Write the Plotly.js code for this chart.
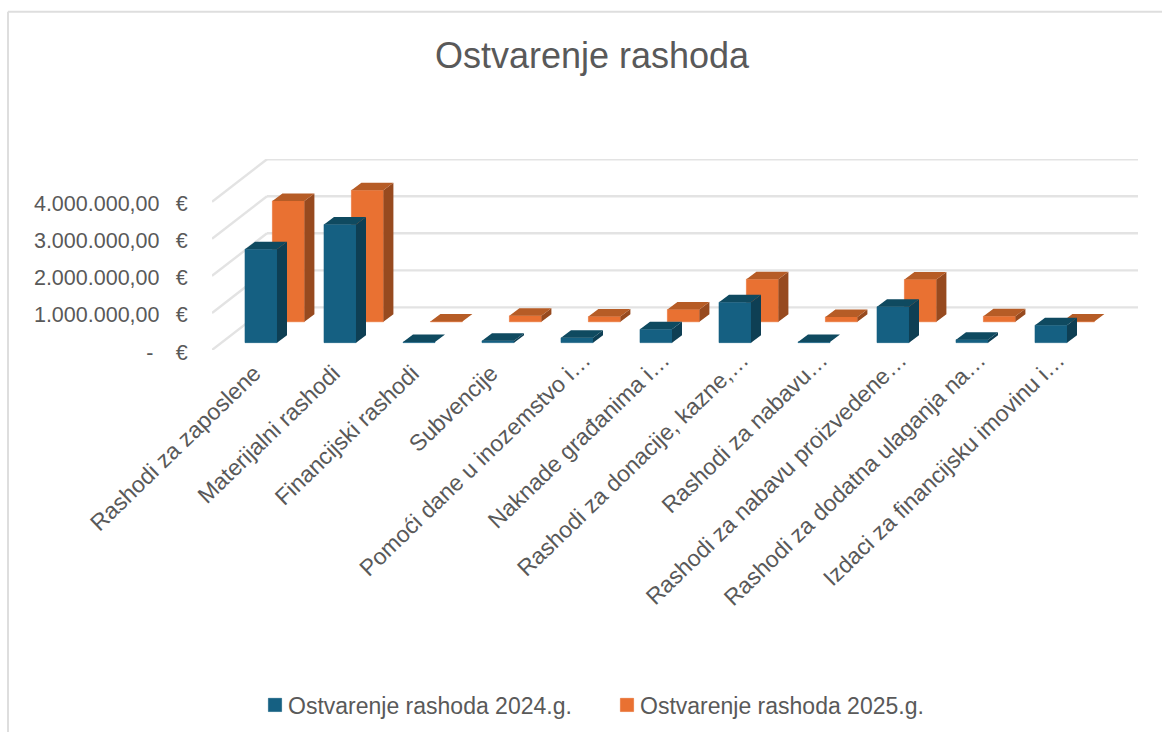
<!DOCTYPE html>
<html><head><meta charset="utf-8">
<script src="https://cdn.plot.ly/plotly-3.0.1.min.js"></script>
<style>html,body{margin:0;padding:0;background:#fff;overflow:hidden}#chart{width:1162px;height:735px}</style>
</head><body><div id="chart"></div>
<script>
const categories = ["Rashodi za zaposlene","Materijalni rashodi","Financijski rashodi","Subvencije","Pomoći dane u inozemstvo i…","Naknade građanima i…","Rashodi za donacije, kazne,…","Rashodi za nabavu…","Rashodi za nabavu proizvedene…","Rashodi za dodatna ulaganja na…","Izdaci za financijsku imovinu i…"];
const series2024 = [2520000,3190000,15000,50000,130000,360000,1090000,20000,970000,80000,470000];
const series2025 = [3260000,3550000,5000,160000,140000,330000,1150000,130000,1140000,150000,5000];
const valueTicks = [0,1000000,2000000,3000000,4000000];
const valueTickText = ["-\u00a0\u00a0\u00a0\u2009€","1.000.000,00\u00a0\u00a0\u2009€","2.000.000,00\u00a0\u00a0\u2009€","3.000.000,00\u00a0\u00a0\u2009€","4.000.000,00\u00a0\u00a0\u2009€"];
const seriesNames = ["Ostvarenje rashoda 2024.g.","Ostvarenje rashoda 2025.g."];

// pixel frame of the plot, and the oblique projection expressed in data units
const W=1162,H=735,L=212,R=1138,T=159,B=351;
const perCat=79, perVal=37.25/1e6;
const xRange=[(L-261)/perCat,(R-261)/perCat], yRange=[0,(B-T)/perVal];
const barW=32/perCat, sideX=10/perCat, sideY=7.5/perVal;
const rows=[{dx:0,dy:7.4/perVal},{dx:27.4/perCat,dy:28.4/perVal}];
const wallX=55/perCat, wallY=42.8/perVal;

const idx=categories.map((_,i)=>i);
// full labels sit slightly further along the slant than truncated ones
const tickLabels=categories.map(c=>c.endsWith('…')?c:c+'\u00a0\u00a0\u00a0');
function bar(vals,row,color,name){
  return {type:'bar',name,x:idx.map(i=>i+row.dx),y:vals,base:vals.map(()=>row.dy),width:barW,
    marker:{color,line:{color:color,width:0.6}},hoverinfo:'skip',showlegend:true};
}
function faces(vals,row,color,kind){
  const xs=[],ys=[];
  vals.forEach((v,i)=>{
    const l=i+row.dx-barW/2,r=i+row.dx+barW/2,t=row.dy+v,b=row.dy;
    if(kind==='top'){xs.push(l,r,r+sideX,l+sideX,l,null);ys.push(t,t,t+sideY,t+sideY,t,null);}
    else{xs.push(r,r+sideX,r+sideX,r,r,null);ys.push(b,b+sideY,t+sideY,t,b,null);}
  });
  return {type:'scatter',mode:'lines',x:xs,y:ys,fill:'toself',fillcolor:color,line:{width:0,color},hoverinfo:'skip',showlegend:false};
}
const gridShapes=[];
valueTicks.forEach(v=>{
  gridShapes.push({type:'line',layer:'below',xref:'x',yref:'y',x0:xRange[0],y0:v,x1:xRange[0]+wallX,y1:v+wallY,line:{color:'#e3e3e3',width:2.4}});
  gridShapes.push({type:'line',layer:'below',xref:'x',yref:'y',x0:xRange[0]+wallX,y0:v+wallY,x1:xRange[1],y1:v+wallY,line:{color:'#e3e3e3',width:2.4}});
});

const TXT='#595959', F='"Liberation Sans", Arial, sans-serif';
const px=v=>(v-L)/(R-L), yp=v=>(B-v)/(B-T);
const data=[
  bar(series2025,rows[1],'#e97132',seriesNames[1]),
  bar(series2024,rows[0],'#156082',seriesNames[0]),
  faces(series2025,rows[1],'#974a1f','side'),
  faces(series2025,rows[1],'#b65c26','top'),
  faces(series2024,rows[0],'#0e3f54','side'),
  faces(series2024,rows[0],'#0f4a60','top')
];
const layout={
  width:W,height:H,paper_bgcolor:'#fff',plot_bgcolor:'rgba(0,0,0,0)',barmode:'overlay',
  margin:{l:L,r:W-R,t:T,b:H-B,pad:0},
  title:{text:'Ostvarenje rashoda',font:{family:F,size:36,color:TXT},x:592/W,xanchor:'center',y:1-55/H,yanchor:'middle'},
  xaxis:{type:'linear',range:xRange,tickmode:'array',tickvals:idx.map(i=>i+0.09),ticktext:tickLabels,tickangle:-44,showgrid:false,zeroline:false,showline:false,
    ticks:'',ticklabelstandoff:-9,tickfont:{family:F,size:23,color:TXT},fixedrange:true},
  yaxis:{range:yRange,tickmode:'array',tickvals:valueTicks,ticktext:valueTickText,showgrid:false,zeroline:false,showline:false,
    ticks:'outside',ticklen:19,tickcolor:'rgba(0,0,0,0)',tickfont:{family:F,size:21.5,color:TXT},ticklabelshift:2,fixedrange:true},
  legend:{orientation:'h',traceorder:'reversed',x:(248-L)/(R-L),xanchor:'left',y:yp(705),yanchor:'middle',font:{family:F,size:23,color:TXT},entrywidth:307,entrywidthmode:'pixels',bgcolor:'rgba(0,0,0,0)'},
  shapes:gridShapes.concat([
    {type:'line',xref:'paper',yref:'paper',x0:px(8),x1:px(8),y0:yp(11),y1:yp(735),line:{color:'#dedede',width:2}},
    {type:'line',xref:'paper',yref:'paper',x0:px(8),x1:px(1162),y0:yp(11),y1:yp(11),line:{color:'#dedede',width:2}}
  ]),
  showlegend:true
};
Plotly.newPlot('chart',data,layout,{displayModeBar:false,staticPlot:true}).then(gd=>{
  // bring the legend swatches next to their labels, as in the reference
  gd.querySelectorAll('.legend .legendpoints').forEach(n=>n.setAttribute('transform','translate(5,0) scale(1.1)'));
});
</script></body></html>
